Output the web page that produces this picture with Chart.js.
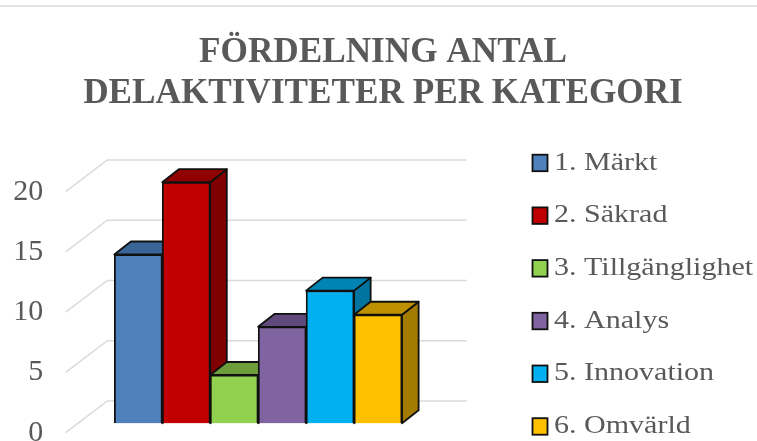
<!DOCTYPE html>
<html>
<head>
<meta charset="utf-8">
<script src="https://cdn.jsdelivr.net/npm/chart.js@4/dist/chart.umd.min.js"></script>
<style>
body { margin: 0; background: #fff; }
canvas { display: block; }
</style>
</head>
<body>
<canvas id="chart" width="757" height="441"></canvas>
<script>
const titleLines = ["FÖRDELNING ANTAL", "DELAKTIVITETER PER KATEGORI"];
const categories = ["Antal"];
const seriesNames = ["1. Märkt", "2. Säkrad", "3. Tillgänglighet", "4. Analys", "5. Innovation", "6. Omvärld"];
const seriesValues = [14, 20, 4, 8, 11, 9];
const frontColors = ["#4F81BD", "#C00000", "#92D050", "#8064A2", "#00B0F0", "#FFC000"];
const topColors = ["#3A6496", "#900000", "#6E9E3C", "#604A7B", "#0084B4", "#BF9000"];
const sideColors = ["#2F4F77", "#800000", "#5F8A34", "#54406C", "#00739E", "#A37B00"];

const textColor = "#595959";
const edgeColor = "#101010";
const edgeWidth = 1.8;

// bars sit a bit behind the front edge of the floor
const barLift = 9.5;
const barDepth = { x: 16.6, y: 13 };
const wallDepth = { x: 41.6, y: 31.7 };

const walls = {
	id: "walls",
	beforeDatasetsDraw(chart) {
		const ctx = chart.ctx, y = chart.scales.y, area = chart.chartArea;
		ctx.save();
		// thin line above the title
		ctx.strokeStyle = "#E3E3E3";
		ctx.lineWidth = 2;
		ctx.beginPath();
		ctx.moveTo(0, 6);
		ctx.lineTo(chart.width, 6);
		ctx.stroke();
		ctx.strokeStyle = "#DADADA";
		ctx.lineWidth = 1.5;
		const x0 = area.left - 48.6;
		y.ticks.forEach(function(t) {
			const py = y.getPixelForValue(t.value);
			ctx.beginPath();
			ctx.moveTo(x0, py);
			ctx.lineTo(x0 + wallDepth.x, py - wallDepth.y);
			ctx.lineTo(area.right + 64.7, py - wallDepth.y);
			ctx.stroke();
		});
		ctx.restore();
	}
};

function poly(ctx, pts, fill) {
	ctx.beginPath();
	pts.forEach(function(p, i) { i ? ctx.lineTo(p[0], p[1]) : ctx.moveTo(p[0], p[1]); });
	ctx.closePath();
	ctx.fillStyle = fill;
	ctx.fill();
	ctx.stroke();
}

const extrude = {
	id: "extrude",
	beforeDatasetsDraw(chart) {
		const ctx = chart.ctx;
		ctx.save();
		ctx.strokeStyle = edgeColor;
		ctx.lineWidth = edgeWidth;
		ctx.lineJoin = "round";
		seriesValues.forEach(function(v, i) {
			const bar = chart.getDatasetMeta(i).data[0];
			const l = bar.x - bar.width / 2, r = bar.x + bar.width / 2;
			const t = bar.y - barLift, b = bar.base - barLift;
			const dx = barDepth.x, dy = barDepth.y;
			poly(ctx, [[r, t], [r + dx, t - dy], [r + dx, b - dy], [r, b]], sideColors[i]);
			poly(ctx, [[l, t], [l + dx, t - dy], [r + dx, t - dy], [r, t]], topColors[i]);
		});
		ctx.restore();
		// the front faces are the library's own bars, lifted with the same offset
		ctx.save();
		ctx.translate(0, -barLift);
	},
	afterDatasetsDraw(chart) {
		chart.ctx.restore();
	}
};

const sideLegend = {
	id: "sideLegend",
	afterDraw(chart) {
		const ctx = chart.ctx;
		chart.data.datasets.forEach(function(ds, i) {
			const cy = 162.7 + i * 52.7;
			ctx.save();
			ctx.fillStyle = ds.backgroundColor;
			ctx.strokeStyle = edgeColor;
			ctx.lineWidth = edgeWidth;
			ctx.fillRect(532.5, cy - 8, 15, 16.5);
			ctx.strokeRect(532.5, cy - 8, 15, 16.5);
			// the source text is a little wider than the font
			ctx.font = "26px 'Liberation Serif'";
			ctx.textBaseline = "middle";
			ctx.fillStyle = textColor;
			ctx.translate(554, cy);
			ctx.scale(1.155, 1);
			ctx.fillText(ds.label, 0, 0);
			ctx.restore();
		});
	}
};

new Chart(document.getElementById("chart"), {
	type: "bar",
	data: {
		labels: categories,
		datasets: seriesNames.map(function(name, i) {
			return {
				label: name,
				data: [seriesValues[i]],
				backgroundColor: frontColors[i],
				borderColor: edgeColor,
				borderWidth: edgeWidth,
				clip: false,
				barPercentage: 1,
				categoryPercentage: 1
			};
		})
	},
	options: {
		responsive: false,
		animation: false,
		layout: { padding: { left: 9, right: 0, top: 0, bottom: 8.3 } },
		scales: {
			// empty band under the title, no labels
			x: {
				position: "top",
				display: true,
				ticks: { display: false },
				grid: { display: false, drawTicks: false },
				border: { display: false },
				afterFit(scale) { scale.height = 77.7; }
			},
			y: {
				min: 0,
				max: 20,
				ticks: {
					stepSize: 5,
					padding: 71,
					color: textColor,
					font: { family: "'Liberation Serif'", size: 30 }
				},
				grid: { display: false, drawTicks: false },
				border: { display: false },
				afterFit(scale) {
					scale.width = 105.3;
					// the wide tick padding would otherwise eat the plot height
					scale.paddingTop = 0;
					scale.paddingBottom = 0;
				}
			},
			// empty axis, only keeps the room for the legend
			legendRoom: {
				position: "right",
				display: true,
				ticks: { display: false },
				grid: { display: false, drawTicks: false },
				border: { display: false },
				afterFit(scale) { scale.width = 355; }
			}
		},
		plugins: {
			legend: { display: false },
			tooltip: { enabled: false },
			title: {
				display: true,
				text: titleLines,
				color: textColor,
				font: { family: "'Liberation Serif'", size: 35.2, weight: "bold", lineHeight: 1.165 },
				padding: { top: 32, bottom: 0 }
			}
		}
	},
	plugins: [walls, extrude, sideLegend]
});
</script>
</body>
</html>
